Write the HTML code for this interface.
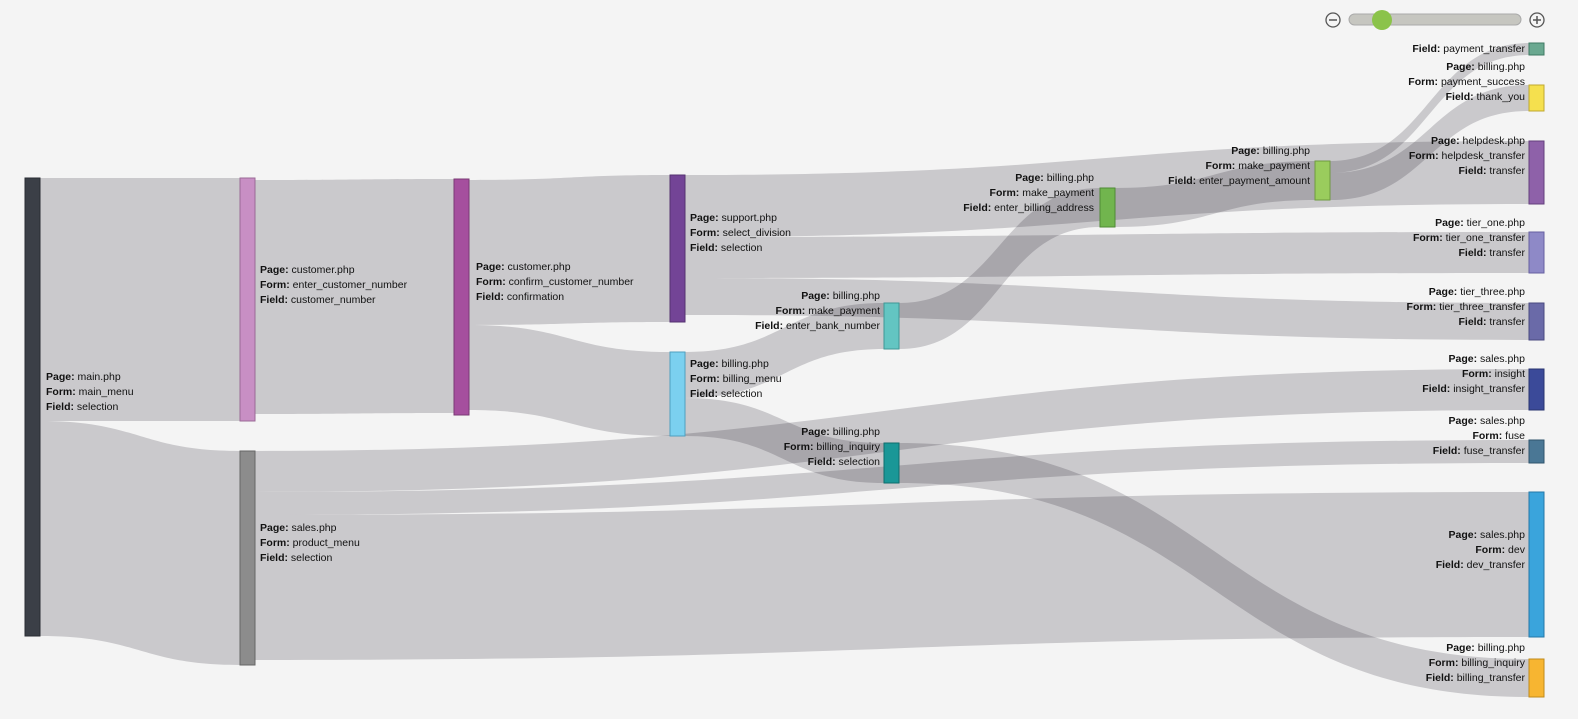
<!DOCTYPE html>
<html><head><meta charset="utf-8"><style>
html,body{margin:0;padding:0;background:#f4f4f4;}
svg{display:block;font-family:"Liberation Sans",Arial,sans-serif;font-size:10.5px;fill:#111;}
.l{fill:rgba(20,15,30,0.19);}
</style></head><body>
<svg width="1578" height="719" viewBox="0 0 1578 719">
<rect width="1578" height="719" fill="#f4f4f4"/>
<g id="links"></g>
<g id="nodes">
<rect x="25" y="178" width="15" height="458" fill="#3b3f47" stroke="#2a2d33"/>
<rect x="240" y="178" width="15" height="243" fill="#c88fc4" stroke="#9a6a96"/>
<rect x="240" y="451" width="15" height="214" fill="#8c8c8c" stroke="#666"/>
<rect x="454" y="179" width="15" height="236" fill="#a54f9e" stroke="#7a3a75"/>
<rect x="670" y="175" width="15" height="147" fill="#734496" stroke="#553270"/>
<rect x="670" y="352" width="15" height="84" fill="#7bd0ef" stroke="#4f9fbf"/>
<rect x="884" y="303" width="15" height="46" fill="#63c5c2" stroke="#3f9896"/>
<rect x="884" y="443" width="15" height="40" fill="#1a9797" stroke="#0f6d6d"/>
<rect x="1100" y="188" width="15" height="39" fill="#71b54e" stroke="#4f8a35"/>
<rect x="1315" y="161" width="15" height="39" fill="#9acc5d" stroke="#6f9a40"/>
<rect x="1529" y="43" width="15" height="12" fill="#6aa890" stroke="#3f7a63"/>
<rect x="1529" y="85" width="15" height="26" fill="#f5e04e" stroke="#bfa930"/>
<rect x="1529" y="141" width="15" height="63" fill="#8e61a9" stroke="#64407d"/>
<rect x="1529" y="232" width="15" height="41" fill="#8e89c7" stroke="#6660a0"/>
<rect x="1529" y="303" width="15" height="37" fill="#6a6aa8" stroke="#4a4a80"/>
<rect x="1529" y="369" width="15" height="41" fill="#3b4a99" stroke="#283470"/>
<rect x="1529" y="440" width="15" height="23" fill="#4a7795" stroke="#30546d"/>
<rect x="1529" y="492" width="15" height="145" fill="#3aa4dc" stroke="#2478a8"/>
<rect x="1529" y="659" width="15" height="38" fill="#f7b531" stroke="#c08a1a"/>
</g>
<g id="labels"></g>
<g>
<circle cx="1333" cy="20" r="7" fill="none" stroke="#555" stroke-width="1.3"/>
<line x1="1329" y1="20" x2="1337" y2="20" stroke="#555" stroke-width="1.5"/>
<rect x="1349" y="14" width="172" height="11" rx="5.5" fill="#c6c6c0" stroke="#aaa"/>
<circle cx="1382" cy="20" r="10" fill="#8bc34a"/>
<circle cx="1537" cy="20" r="7" fill="none" stroke="#555" stroke-width="1.3"/>
<line x1="1533" y1="20" x2="1541" y2="20" stroke="#555" stroke-width="1.5"/>
<line x1="1537" y1="16" x2="1537" y2="24" stroke="#555" stroke-width="1.5"/>
</g>
</svg>
<script>
var L=[
[40,178,421,240,178,421],
[40,421,636,240,451,665],
[255,180,414,454,179,413],
[469,180,325,670,175,322],
[469,325,410,670,352,436],
[685,175,237,1529,141,204],
[685,237,278,1529,232,273],
[685,278,315,1529,303,340],
[685,352,398,884,303,349],
[685,398,436,884,443,483],
[899,443,483,1529,659,697],
[899,303,349,1100,188,227],
[1115,188,227,1315,161,200],
[1330,161,173,1529,43,55],
[1330,173,200,1529,85,111],
[255,451,492,1529,369,410],
[255,492,515,1529,440,463],
[255,515,660,1529,492,637]
];
var g=document.getElementById('links'),s='';
L.forEach(function(a){var x0=a[0],x1=a[3],m=(x0+x1)/2;
s+='<path class="l" d="M'+x0+','+a[1]+'C'+m+','+a[1]+' '+m+','+a[4]+' '+x1+','+a[4]+'L'+x1+','+a[5]+'C'+m+','+a[5]+' '+m+','+a[2]+' '+x0+','+a[2]+'Z"/>';});
g.innerHTML=s;
var T=[
[46,376,'start',['main.php','main_menu','selection']],
[260,269,'start',['customer.php','enter_customer_number','customer_number']],
[260,527,'start',['sales.php','product_menu','selection']],
[476,266,'start',['customer.php','confirm_customer_number','confirmation']],
[690,217,'start',['support.php','select_division','selection']],
[690,363,'start',['billing.php','billing_menu','selection']],
[880,295,'end',['billing.php','make_payment','enter_bank_number']],
[880,431,'end',['billing.php','billing_inquiry','selection']],
[1094,177,'end',['billing.php','make_payment','enter_billing_address']],
[1310,150,'end',['billing.php','make_payment','enter_payment_amount']],
[1525,66,'end',['billing.php','payment_success','thank_you']],
[1525,140,'end',['helpdesk.php','helpdesk_transfer','transfer']],
[1525,222,'end',['tier_one.php','tier_one_transfer','transfer']],
[1525,291,'end',['tier_three.php','tier_three_transfer','transfer']],
[1525,358,'end',['sales.php','insight','insight_transfer']],
[1525,420,'end',['sales.php','fuse','fuse_transfer']],
[1525,534,'end',['sales.php','dev','dev_transfer']],
[1525,647,'end',['billing.php','billing_inquiry','billing_transfer']]
];
var k=['Page:','Form:','Field:'],t='';
T.forEach(function(a){for(var i=0;i<3;i++){t+='<text x="'+a[0]+'" y="'+(a[1]+4+i*15)+'" text-anchor="'+a[2]+'"><tspan font-weight="bold">'+k[i]+'</tspan> '+a[3][i]+'</text>';}});
t+='<text x="1525" y="52" text-anchor="end"><tspan font-weight="bold">Field:</tspan> payment_transfer</text>';
document.getElementById('labels').innerHTML=t;
</script>
</body></html>
